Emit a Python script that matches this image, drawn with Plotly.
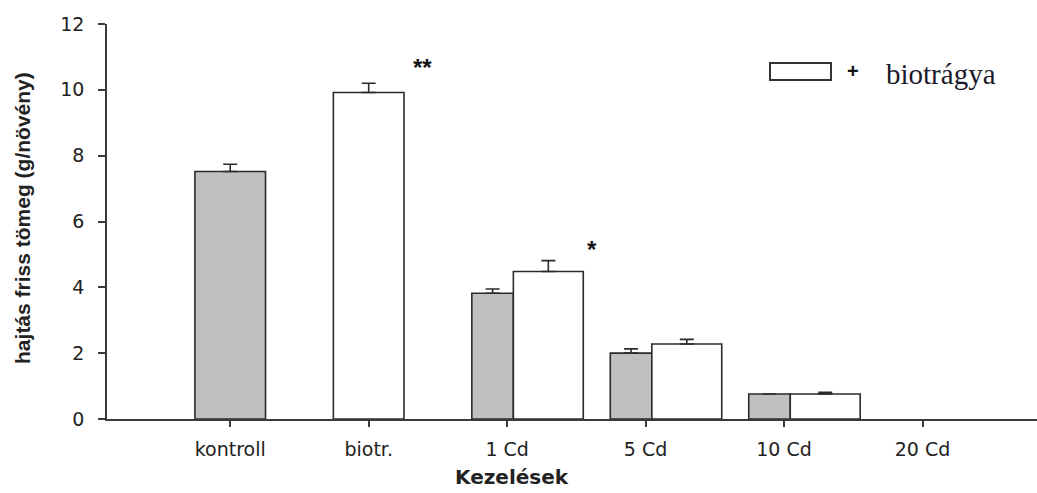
import plotly.graph_objects as go

# Treatments on the x axis
categories = ["kontroll", "biotr.", "1 Cd", "5 Cd", "10 Cd", "20 Cd"]

# Shoot fresh mass (g/plant) without biofertilizer (grey) and with it (white)
plain_mass = [7.52, None, 3.82, 2.00, 0.76, None]
plain_err = [0.22, None, 0.13, 0.13, 0.0, None]
bio_mass = [None, 9.92, 4.48, 2.28, 0.76, None]
bio_err = [None, 0.28, 0.33, 0.14, 0.05, None]

# Significance marks: (category, side offset, height, text)
sig_marks = [("biotr.", 0.39, 10.68, "**"), ("1 Cd", 0.61, 5.15, "*")]

AXIS = "#3a3a3a"
EDGE = "#2b2b2b"
GREY = "#c0c0c0"
TXT = "#222222"

SINGLE_W = 0.51
PAIR_SPLIT = 0.045
GREY_W = 0.30
WHITE_W = 0.505


def layout_bars(vals, errs, other, kind):
    xs, ys, ws, es = [], [], [], []
    for i, (v, e, o) in enumerate(zip(vals, errs, other)):
        if v is None:
            continue
        if o is None:
            xs.append(i)
            ws.append(SINGLE_W)
        elif kind == "grey":
            xs.append(i + PAIR_SPLIT - GREY_W / 2)
            ws.append(GREY_W)
        else:
            xs.append(i + PAIR_SPLIT + WHITE_W / 2)
            ws.append(WHITE_W)
        ys.append(v)
        es.append(e)
    return xs, ys, ws, es


fig = go.Figure()
for vals, errs, other, kind, fill in [
    (plain_mass, plain_err, bio_mass, "grey", GREY),
    (bio_mass, bio_err, plain_mass, "white", "white"),
]:
    xs, ys, ws, es = layout_bars(vals, errs, other, kind)
    fig.add_trace(go.Bar(
        x=xs, y=ys, width=ws,
        marker=dict(color=fill, line=dict(color=EDGE, width=1.6)),
        error_y=dict(type="data", symmetric=False, array=es,
                     arrayminus=[0] * len(es), color=EDGE,
                     thickness=1.6, width=7),
        showlegend=False,
    ))

for cat, dx, y, txt in sig_marks:
    fig.add_annotation(x=categories.index(cat) + dx, y=y, text=f"<b>{txt}</b>",
                       showarrow=False, xanchor="center", yanchor="middle",
                       font=dict(family="Liberation Sans", size=24,
                                 color="#111111"))

# Axis titles
fig.add_annotation(xref="paper", yref="paper", x=0.435, y=-0.147,
                   text="<b>Kezelések</b>", showarrow=False,
                   xanchor="center", yanchor="middle", borderpad=0,
                   font=dict(family="DejaVu Sans", size=20, color=TXT))
fig.add_annotation(xref="paper", yref="paper", x=-0.0903, y=0.509,
                   text="<b>hajtás friss tömeg (g/növény)</b>",
                   textangle=-90, showarrow=False,
                   xanchor="center", yanchor="middle",
                   font=dict(family="Liberation Sans", size=21, color=TXT))

# Legend: open box, plus sign and label
fig.add_shape(type="rect", xref="paper", yref="paper",
              x0=0.7129, x1=0.7785, y0=0.8582, y1=0.9013,
              line=dict(color="#333333", width=2), fillcolor="white")
fig.add_annotation(xref="paper", yref="paper", x=0.8022, y=0.8818,
                   text="<b>+</b>", showarrow=False, xanchor="center",
                   yanchor="middle",
                   font=dict(family="Liberation Sans", size=20,
                             color="#111111"))
fig.add_annotation(xref="paper", yref="paper", x=0.8968, y=0.873,
                   text="biotrágya", showarrow=False, xanchor="center",
                   yanchor="middle",
                   font=dict(family="Liberation Serif", size=29,
                             color="#1a1a2a"))

fig.update_layout(
    width=1037, height=493,
    margin=dict(l=107, r=0, t=24, b=74),
    paper_bgcolor="white", plot_bgcolor="white",
    barmode="overlay",
    font=dict(family="DejaVu Sans", size=19, color=TXT),
    xaxis=dict(
        range=[-0.89, 5.827],
        tickmode="array", tickvals=list(range(len(categories))),
        ticktext=categories,
        showline=True, linecolor=AXIS, linewidth=1.6,
        ticks="outside", ticklen=6, tickwidth=1.6, tickcolor=AXIS,
        ticklabelstandoff=6,
        showgrid=False, zeroline=False,
    ),
    yaxis=dict(
        range=[0, 12], tickmode="linear", tick0=0, dtick=2,
        showline=True, linecolor=AXIS, linewidth=1.6,
        ticks="outside", ticklen=7, tickwidth=1.6, tickcolor=AXIS,
        ticklabelstandoff=10,
        showgrid=False, zeroline=False,
    ),
)

fig.write_html("out.html")
